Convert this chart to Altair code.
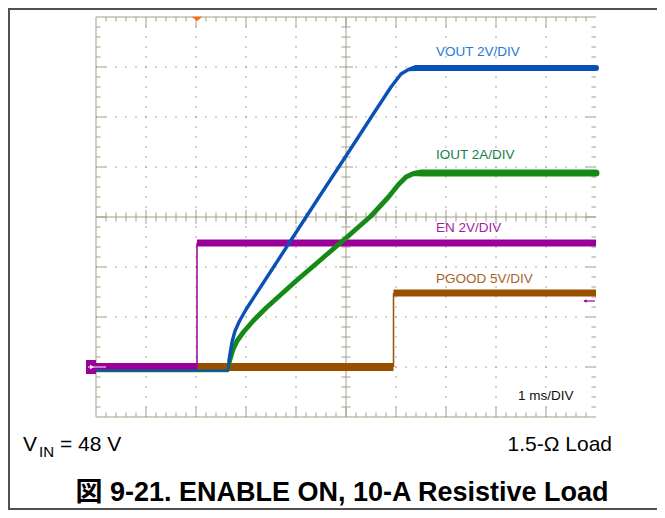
import altair as alt
import pandas as pd

# ---------------- data (scope screen: x = time in divisions, 1 ms/DIV; y = divisions from bottom) -------------
VOUT_T = [0.0, 2.64, 2.67, 2.72, 2.78, 2.87, 3.0, 3.5, 4.0, 4.5, 5.0, 5.5, 5.9, 6.1, 6.25, 6.4, 10.0]
VOUT_V = [0.93, 0.93, 1.2, 1.5, 1.72, 1.92, 2.15, 2.92, 3.69, 4.46, 5.22, 5.99, 6.6, 6.86, 6.95, 6.98, 6.98]
IOUT_T = [0.0, 2.64, 2.68, 2.74, 2.82, 2.95, 3.15, 3.4, 4.0, 4.5, 5.0, 5.5, 5.85, 6.05, 6.2, 6.35, 6.5, 10.0]
IOUT_V = [0.92, 0.92, 1.15, 1.35, 1.52, 1.70, 1.93, 2.18, 2.72, 3.15, 3.58, 4.02, 4.4, 4.65, 4.8, 4.87, 4.88, 4.88]
EN_EDGES = [0.0, 2.02, 10.0]      # start, switching edge, end
EN_LEVELS = [1.0, 3.48]           # low, high
PG_EDGES = [0.0, 5.95, 10.0]
PG_LEVELS = [1.0, 2.48]
TRIGGER_T = 2.02
LABELS = ["VOUT 2V/DIV", "IOUT 2A/DIV", "EN 2V/DIV", "PGOOD 5V/DIV", "1 ms/DIV"]
LABEL_X = [6.8, 6.8, 6.8, 6.8, 8.44]
LABEL_Y = [7.22, 5.16, 3.70, 2.68, 0.34]
LABEL_C = ["#1f7bd2", "#178048", "#a21ea2", "#a86428", "#111111"]

NX, NY = 10, 8
PXD = 50.0  # pixels per division
FONT = "Liberation Sans, Arial, Noto Sans CJK JP, sans-serif"
GRID_C = "#a39f85"
DOT_C = "#9c9c90"

xs = alt.Scale(domain=[0, NX], nice=False, zero=False)
ys = alt.Scale(domain=[0, NY], nice=False, zero=False)


def X(f):
    return alt.X(f, type="quantitative", scale=xs, axis=None)


def Y(f):
    return alt.Y(f, type="quantitative", scale=ys, axis=None)


# ---------------- graticule ----------------
dots = [dict(x=k, x2=k, y=0, y2=NY) for k in range(1, NX) if k != NX // 2]
dots += [dict(x=0, x2=NX, y=k, y2=k) for k in range(1, NY) if k != NY // 2]
dots_df = pd.DataFrame(dots)

solid = [dict(x=0, x2=0, y=0, y2=NY), dict(x=0, x2=NX, y=NY, y2=NY), dict(x=0, x2=NX, y=0, y2=0),
         dict(x=0, x2=NX, y=NY / 2, y2=NY / 2), dict(x=NX / 2, x2=NX / 2, y=0, y2=NY)]
for i in range(1, NX * 5):
    t = i * 0.2
    maj = i % 5 == 0
    c = (7 if maj else 4.5) / PXD
    e = (10 if maj else 4.5) / PXD
    solid.append(dict(x=t, x2=t, y=NY / 2 - c, y2=NY / 2 + c))
    solid.append(dict(x=t, x2=t, y=NY - e, y2=NY))
    solid.append(dict(x=t, x2=t, y=0, y2=e))
for i in range(1, NY * 5):
    t = i * 0.2
    maj = i % 5 == 0
    c = (7 if maj else 4.5) / PXD
    e = (10 if maj else 4.5) / PXD
    solid.append(dict(x=NX / 2 - c, x2=NX / 2 + c, y=t, y2=t))
    solid.append(dict(x=0, x2=e, y=t, y2=t))
    solid.append(dict(x=NX - e, x2=NX, y=t, y2=t))
solid_df = pd.DataFrame(solid)

dot_layer = alt.Chart(dots_df).mark_rule(color=DOT_C, strokeWidth=1.2, strokeDash=[1.6, 8.4],
                                         strokeDashOffset=0.8).encode(
    x=X("x"), x2="x2", y=Y("y"), y2="y2")
solid_layer = alt.Chart(solid_df).mark_rule(color=GRID_C, strokeWidth=1).encode(
    x=X("x"), x2="x2", y=Y("y"), y2="y2")


# ---------------- traces ----------------
def ramp_df(ts, vs, w_low, w_ramp, w_top):
    rows = []
    lo, hi = vs[0], vs[-1]
    for i, (t, v) in enumerate(zip(ts, vs)):
        if abs(v - lo) < 1e-6:
            w = w_low
        elif abs(v - hi) < 1e-6:
            w = w_top
        else:
            w = w_ramp
        rows.append(dict(t=t, v=v, w=w, i=i))
    return pd.DataFrame(rows)


def trail(df, color):
    return alt.Chart(df).mark_trail(color=color).encode(
        x=X("t"), y=Y("v"), size=alt.Size("w:Q", scale=None, legend=None), order=alt.Order("i:Q"))


def step_layers(edges, levels, color, w_low, w_high):
    flat = pd.DataFrame([dict(x=edges[0], x2=edges[1], y=levels[0], w=w_low),
                         dict(x=edges[1], x2=edges[2], y=levels[1], w=w_high)])
    edge = pd.DataFrame([dict(x=edges[1], y=levels[0], y2=levels[1])])
    a = alt.Chart(flat).mark_rule(color=color).encode(
        x=X("x"), x2="x2", y=Y("y"), strokeWidth=alt.StrokeWidth("w:Q", scale=None, legend=None))
    b = alt.Chart(edge).mark_rule(color=color, strokeWidth=1.5).encode(x=X("x"), y=Y("y"), y2="y2")
    return [b, a]


iout = trail(ramp_df(IOUT_T, IOUT_V, 2.5, 4.8, 7), "#168a16")
vout = trail(ramp_df(VOUT_T, VOUT_V, 2, 3.4, 6), "#0a50b6")
pgood = step_layers(PG_EDGES, PG_LEVELS, "#9a4e00", 8, 7)
en = step_layers(EN_EDGES, EN_LEVELS, "#990099", 8, 7)

# ---------------- markers ----------------
trig = alt.Chart(pd.DataFrame({"t": [TRIGGER_T], "y": [NY - 2 / PXD]})).mark_point(
    shape="M-1,-0.45L1,-0.45L0,0.45Z", filled=True, size=110, color="#ff6a1a", opacity=1).encode(
    x=X("t"), y=Y("y"))

gnd_box = alt.Chart(pd.DataFrame({"x": [-10 / PXD], "x2": [0], "y": [EN_LEVELS[0] - 7 / PXD],
                                  "y2": [EN_LEVELS[0] + 7 / PXD]})).mark_rect(color="#990099").encode(
    x=X("x"), x2="x2", y=Y("y"), y2="y2")
gnd_line = alt.Chart(pd.DataFrame({"x": [-8 / PXD], "x2": [10 / PXD], "y": [EN_LEVELS[0]]})).mark_rule(
    color="#f0c8f0", strokeWidth=1.2).encode(x=X("x"), x2="x2", y=Y("y"))
gnd_head = alt.Chart(pd.DataFrame({"x": [-4 / PXD], "y": [EN_LEVELS[0]]})).mark_point(
    shape="triangle-right", filled=True, size=22, color="white", opacity=1).encode(x=X("x"), y=Y("y"))

ref_line = alt.Chart(pd.DataFrame({"x": [NX - 12 / PXD], "x2": [NX - 1 / PXD], "y": [2.32]})).mark_rule(
    color="#990099", strokeWidth=1.2).encode(x=X("x"), x2="x2", y=Y("y"))
ref_head = alt.Chart(pd.DataFrame({"x": [NX - 11 / PXD], "y": [2.32]})).mark_point(
    shape="triangle-left", filled=True, size=14, color="#990099", opacity=1).encode(x=X("x"), y=Y("y"))

# ---------------- texts ----------------
lab_df = pd.DataFrame({"x": LABEL_X, "y": LABEL_Y, "text": LABELS, "c": LABEL_C})
labels = alt.Chart(lab_df).mark_text(align="left", baseline="alphabetic", fontSize=13.5, font=FONT).encode(
    x=X("x"), y=Y("y"), text="text:N", color=alt.Color("c:N", scale=None, legend=None))

one = pd.DataFrame({"a": [0]})


def ptext(txt, x, y, size, align="left", weight="normal"):
    return alt.Chart(one).mark_text(align=align, baseline="alphabetic", fontSize=size, font=FONT,
                                    fontWeight=weight, color="#000000").encode(
        x=alt.value(x), y=alt.value(y), text=alt.value(txt))


def prule(x, y, x2=None, y2=None):
    enc = dict(x=alt.value(x), y=alt.value(y))
    if x2 is not None:
        enc["x2"] = alt.value(x2)
    if y2 is not None:
        enc["y2"] = alt.value(y2)
    return alt.Chart(one).mark_rule(color="#505050", strokeWidth=2).encode(**enc)


frame = [prule(-87, -8, y2=492), prule(-88, -8, x2=561), prule(-88, 492, x2=561)]
texts = [
    ptext("V", -73, 434, 21),
    ptext("IN", -57, 440, 15),
    ptext("= 48 V", -36, 434, 21),
    ptext("1.5-\u03a9 Load", 516, 434, 21, align="right"),
    ptext("\u56f3 9-21. ENABLE ON, 10-A Resistive Load", 246, 484, 27, align="center", weight="bold"),
]

layers = [dot_layer, solid_layer] + pgood + en + [iout, vout, trig, gnd_box, gnd_line, gnd_head, ref_line,
                                                  ref_head, labels] + frame + texts

chart = alt.layer(*layers).properties(
    width=500, height=400,
    padding={"left": 88, "top": 9, "right": 61, "bottom": 93},
    autosize=alt.AutoSizeParams(type="none"),
    background="white",
).configure_view(stroke=None)

chart.save("out.html", embed_options={"renderer": "svg", "actions": False})
